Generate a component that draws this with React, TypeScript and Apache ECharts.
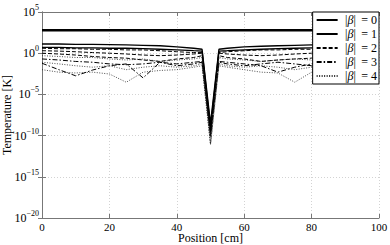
import React, { useEffect, useRef } from "react";
import * as echarts from "echarts";

const X = [0, 5, 10, 15, 20, 25, 30, 35, 40, 45, 47.5, 50, 52.5, 55, 60, 65, 70, 75, 80, 85, 90, 95, 100];

const beta0 = [6e2, 6e2, 6e2, 6e2, 6e2, 6e2, 6e2, 6e2, 6e2, 6e2, 6e2, 6e2, 6e2, 6e2, 6e2, 6e2, 6e2, 6e2, 6e2, 6e2, 6e2, 6e2, 6e2];

const beta1a = [13, 13, 12, 12, 11, 10, 9, 8, 6, 4, 3, 3e-9, 3, 4, 6, 7, 8, 9, 10, 11, 12, 12, 12];
const beta1b = [5, 5, 4.5, 4.5, 4, 4, 3.5, 3, 2.5, 2, 1.8, 1e-9, 1.8, 2, 2.5, 3, 3.5, 4, 4.5, 5, 5, 5, 5];

const beta2a = [4, 3.5, 3.5, 3, 3, 2.5, 2.5, 2, 1.5, 1.2, 1.2, 6e-10, 1.2, 1.5, 2, 2.5, 2.5, 3, 3, 3.5, 3.5, 4, 4];
const beta2b = [2, 1.8, 1.5, 1.2, 1, 0.8, 0.6, 0.5, 0.6, 0.8, 1, 3e-10, 1, 0.8, 0.6, 0.5, 0.6, 0.8, 1, 1.2, 1.5, 1.8, 2];
const beta2c = [1, 0.8, 0.6, 0.4, 0.3, 0.25, 0.15, 0.1, 0.2, 0.3, 0.5, 2e-10, 0.5, 0.3, 0.2, 0.1, 0.15, 0.2, 0.25, 0.35, 0.5, 0.7, 1];

const beta3a = [6e-2, 1e-2, 1.8e-3, 9e-3, 3e-2, 5e-2, 1e-3, 8e-2, 5e-2, 8e-2, 0.1, 1e-10, 0.1, 8e-2, 5e-2, 3e-2, 5e-3, 2e-2, 5e-2, 8e-2, 0.1, 0.12, 0.15];
const beta3b = [0.2, 0.15, 0.1, 0.08, 0.05, 0.04, 0.05, 0.08, 0.03, 0.05, 0.08, 8e-11, 0.08, 0.05, 0.03, 0.05, 0.08, 0.05, 0.03, 0.05, 0.08, 0.1, 0.15];

const beta4a = [0.5, 0.4, 0.3, 0.3, 0.2, 0.15, 0.2, 0.1, 0.15, 0.2, 0.3, 1e-11, 0.3, 0.2, 0.15, 0.1, 0.15, 0.2, 0.15, 0.2, 0.3, 0.4, 0.5];
const beta4b = [0.08, 0.05, 0.03, 0.02, 0.03, 0.01, 0.02, 0.03, 0.02, 0.03, 0.05, 1e-11, 0.05, 0.03, 0.02, 0.03, 0.02, 0.01, 0.02, 0.03, 0.04, 0.05, 0.08];
const beta4c = [1e-2, 5e-3, 4e-3, 5e-3, 3e-3, 3e-4, 5e-3, 8e-3, 1e-2, 2e-2, 3e-2, 8e-12, 3e-2, 2e-2, 1e-2, 5e-3, 4e-3, 3e-4, 5e-3, 1e-2, 2e-2, 3e-2, 4e-2];

const legendNames = ["b0", "b1", "b2", "b3", "b4"];
const legendLabels = ["0", "1", "2", "3", "4"];
const xTicks = { min: 0, max: 100, interval: 20 };
const yRange = { min: 1e-20, max: 1e5 };

const FONT = "Liberation Serif";

export default function App() {
  const ref = useRef<HTMLDivElement>(null);
  useEffect(() => {
    const chart = echarts.init(ref.current!, undefined, { renderer: "svg" });
    const mk = (name: string, arr: number[], lineStyle: any) => ({
      type: "line",
      name,
      color: "#000",
      data: X.map((x, i) => [x, arr[i]]),
      showSymbol: false,
      symbol: "none",
      lineStyle: { color: "#000", ...lineStyle },
      itemStyle: { color: "#000" },
      z: 3,
    });
    const solid0 = { width: 2.6, type: "solid" };
    const solid1 = { width: 1.3, type: "solid" };
    const dashed = { width: 1, type: [4, 2] };
    const dashdot = { width: 1, type: [5, 2, 1.5, 2] };
    const dotted = { width: 0.8, type: [1, 1.5], color: "#222" };
    const series = [
      mk("b0", beta0, solid0),
      mk("b1", beta1a, solid1),
      mk("b1", beta1b, solid1),
      mk("b2", beta2a, dashed),
      mk("b2", beta2b, dashed),
      mk("b2", beta2c, dashed),
      mk("b3", beta3a, dashdot),
      mk("b3", beta3b, dashdot),
      mk("b4", beta4a, dotted),
      mk("b4", beta4b, dotted),
      mk("b4", beta4c, dotted),
    ];
    const axisLine = { show: true, lineStyle: { color: "#777", width: 1 } };
    const tick = { show: true, inside: true, length: 4, lineStyle: { color: "#777" } };
    const split = { show: true, lineStyle: { color: "#c8c8c8", type: [1, 2], width: 0.8 } };
    chart.setOption({
      animation: false,
      backgroundColor: "#fff",
      color: ["#000"],
      textStyle: { fontFamily: FONT, color: "#000" },
      grid: { left: 42, right: 11, top: 12, bottom: 27, containLabel: false, outerBoundsMode: "none" },
      legend: {
        data: legendNames,
        orient: "vertical",
        right: 11,
        top: 12,
        backgroundColor: "#fff",
        borderColor: "#000",
        borderWidth: 1,
        borderRadius: 0,
        padding: [2, 2, 2, 3],
        itemGap: 2,
        itemWidth: 21,
        itemHeight: 11,
        inactiveColor: "#000",
        itemStyle: { color: "rgba(0,0,0,0)", borderColor: "rgba(0,0,0,0)", borderWidth: 0, opacity: 0 },
        textStyle: {
          fontFamily: FONT,
          fontSize: 12,
          color: "#000",
          rich: {
            n: { fontFamily: FONT, fontSize: 12, color: "#000" },
            i: { fontFamily: FONT, fontSize: 12, fontStyle: "italic", color: "#000" },
          },
        },
        formatter: (name: string) => {
          const k = legendNames.indexOf(name);
          return `{n|\u2009|}{i|β}{n||\u2009 = ${legendLabels[k]}}`;
        },
      },
      xAxis: [
        {
          type: "value",
          ...xTicks,
          name: "Position [cm]",
          nameLocation: "middle",
          nameGap: 14,
          nameMoveOverlap: false,
          nameTextStyle: { fontFamily: FONT, fontSize: 12, lineHeight: 12, color: "#000" },
          axisLine,
          axisTick: tick,
          splitLine: split,
          axisLabel: { fontFamily: FONT, fontSize: 11, lineHeight: 11, color: "#000", margin: 3 },
        },
        {
          type: "value",
          position: "top",
          ...xTicks,
          axisLine,
          axisTick: tick,
          splitLine: { show: false },
          axisLabel: { show: false },
        },
      ],
      yAxis: [
        {
          type: "log",
          logBase: 10,
          ...yRange,
          interval: 5,
          splitNumber: 5,
          name: "Temperature [K]",
          nameLocation: "middle",
          nameGap: 29,
          nameMoveOverlap: false,
          nameTextStyle: { fontFamily: FONT, fontSize: 12, color: "#000" },
          axisLine,
          axisTick: tick,
          splitLine: split,
          axisLabel: {
            margin: 3,
            formatter: (v: number) => {
              const e = Math.round(Math.log10(v));
              return `{b|10}{e|${e < 0 ? "\u2212" + -e : e}}`;
            },
            rich: {
              b: { fontFamily: FONT, fontSize: 12, color: "#000" },
              e: { fontFamily: FONT, fontSize: 8, color: "#000", verticalAlign: "bottom", padding: [0, 0, 9, 0] },
            },
          },
        },
        {
          type: "log",
          logBase: 10,
          position: "right",
          ...yRange,
          interval: 5,
          splitNumber: 5,
          axisLine,
          axisTick: tick,
          splitLine: { show: false },
          axisLabel: { show: false },
        },
      ],
      series,
    });
    return () => chart.dispose();
  }, []);
  return (
    <div
      ref={ref}
      style={{ position: "fixed", left: 0, top: 0, width: 390, height: 245, background: "#fff" }}
    />
  );
}
